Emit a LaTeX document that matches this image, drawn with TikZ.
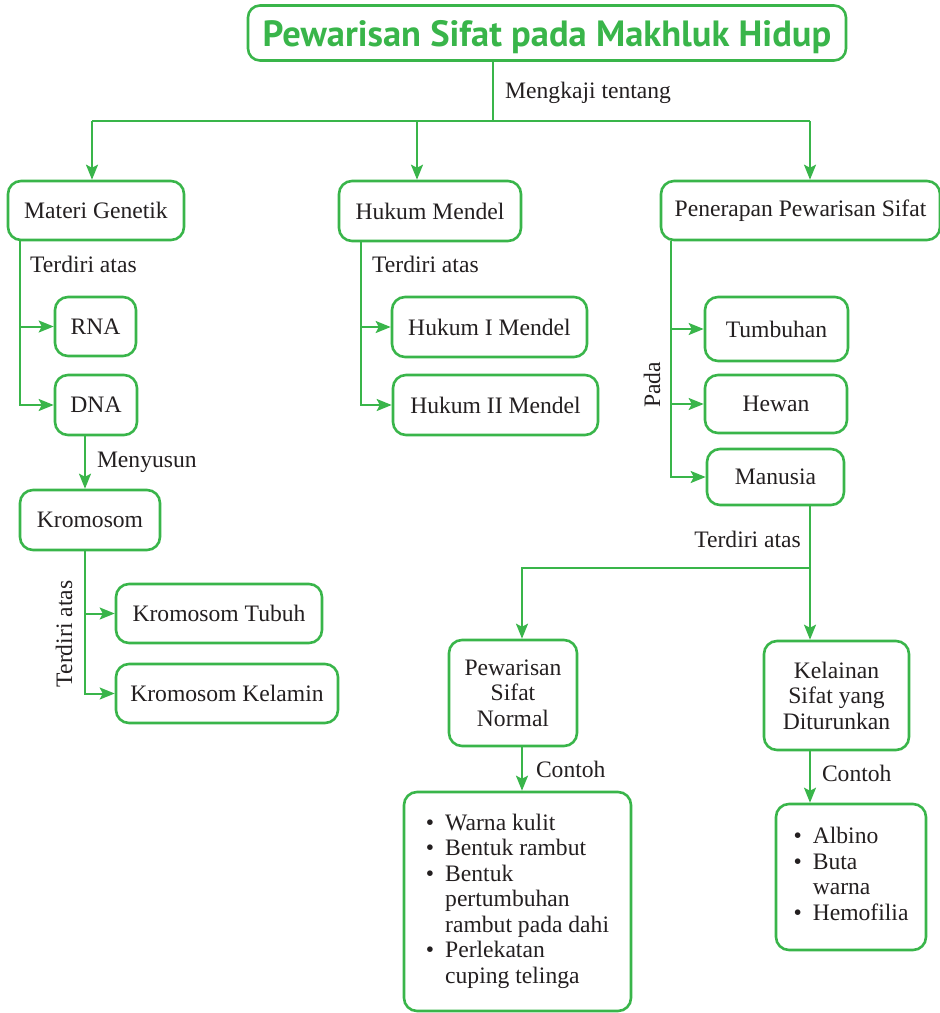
\documentclass[tikz,border=0pt]{standalone}
\usepackage{fontspec}
\setmainfont{Liberation Serif}
\newfontfamily\judulfont{PT Sans}
\usetikzlibrary{arrows.meta,calc}
\definecolor{hijau}{RGB}{57,181,74}
\definecolor{teks}{RGB}{35,31,32}
\tikzset{
  % kotak konsep
  kotak/.style   = {draw=hijau, line width=2.6pt, rounded corners=13pt,
                    inner sep=0pt, text=teks, align=center,
                    font=\fontsize{23.6}{25.5}\selectfont},
  ukuran/.style 2 args = {minimum width=#1pt, minimum height=#2pt},
  % garis penghubung
  garis/.style   = {draw=hijau, line width=2pt},
  panah/.style   = {garis, -{Stealth[length=15pt,width=12pt,inset=3pt]}},
  % keterangan
  ket/.style     = {text=teks, inner sep=0pt, font=\fontsize{23.6}{25.5}\selectfont},
}
\begin{document}
\begin{tikzpicture}[x=1pt,y=-1pt]
  \useasboundingbox (0,0) rectangle (940,1013);
  % judul
  \node[kotak, ukuran={598}{55}, rounded corners=12pt, text=hijau, text depth=0pt,
        font=\judulfont\bfseries\fontsize{36.5}{38}\selectfont] (judul) at (547,33)
        {Pewarisan Sifat pada Makhluk Hidup};
  % baris pertama
  \node[kotak, ukuran={176}{59}] (gen)    at (96,210.5)  {Materi Genetik};
  \node[kotak, ukuran={182}{60}] (mendel) at (430,211)   {Hukum Mendel};
  \node[kotak, ukuran={279}{59}] (terap)  at (800.5,210.5) {Penerapan Pewarisan Sifat};
  % materi genetik
  \node[kotak, ukuran={81}{59}]  (rna)     at (95.5,326.5) {RNA};
  \node[kotak, ukuran={82}{60}]  (dna)     at (96,405)     {DNA};
  \node[kotak, ukuran={140}{60}] (krom)    at (90,520)     {Kromosom};
  \node[kotak, ukuran={206}{59}] (tubuh)   at (219,613.5)  {Kromosom Tubuh};
  \node[kotak, ukuran={222}{59}] (kelamin) at (227,693.5)  {Kromosom Kelamin};
  % hukum mendel
  \node[kotak, ukuran={195}{60}] (hk1) at (489.5,327) {Hukum I Mendel};
  \node[kotak, ukuran={205}{60}] (hk2) at (495.5,405) {Hukum II Mendel};
  % penerapan
  \node[kotak, ukuran={143}{64}] (tumb)    at (776.5,329) {Tumbuhan};
  \node[kotak, ukuran={142}{58}] (hewan)   at (776,404)   {Hewan};
  \node[kotak, ukuran={137}{56}] (manusia) at (775.5,477) {Manusia};
  \node[kotak, ukuran={128}{106}] (normal)   at (513,693)   {Pewarisan\\Sifat\\Normal};
  \node[kotak, ukuran={145}{109}] (kelainan) at (836.5,695.5) {Kelainan\\Sifat yang\\Diturunkan};
  % contoh
  \node[kotak, ukuran={227}{219}, align=left] (cth1) at (517.5,901.5)
    {\begin{tabular}{@{}l@{\hspace{11pt}}l@{}}
      \textbullet & Warna kulit\\
      \textbullet & Bentuk rambut\\
      \textbullet & Bentuk\\
                  & pertumbuhan\\
                  & rambut pada dahi\\
      \textbullet & Perlekatan\\
                  & cuping telinga
     \end{tabular}};
  \node[kotak, ukuran={150}{146}, align=left] (cth2) at (851,877)
    {\begin{tabular}{@{}l@{\hspace{11pt}}l@{}}
      \textbullet & Albino\\
      \textbullet & Buta\\
                  & warna\\
      \textbullet & Hemofilia
     \end{tabular}};
  % titik bantu
  \coordinate (pusat) at (493,121);
  \coordinate (c1) at (92,121);
  \coordinate (c2) at (417,121);
  \coordinate (c3) at (810,121);
  \coordinate (t1) at (20,0);
  \coordinate (t2) at (85,0);
  \coordinate (t3) at (361,0);
  \coordinate (t4) at (671,0);
  \coordinate (t5) at (810,0);
  \coordinate (t6) at (522,0);
  \coordinate (cab) at (810,568);
  % penghubung atas
  \draw[garis] (judul.south -| pusat) -- (pusat);
  \draw[garis] (c1) -- (c3);
  \draw[panah] (c1) -- (c1 |- gen.north);
  \draw[panah] (c2) -- (c2 |- mendel.north);
  \draw[panah] (c3) -- (c3 |- terap.north);
  \node[ket, anchor=west] (kaji) at (505,93) {Mengkaji tentang};
  % materi genetik
  \draw[panah] (gen.south -| t1) |- (rna.west);
  \draw[panah] (gen.south -| t1) |- (dna.west);
  \node[ket, anchor=west] (atas1) at (30,264) {Terdiri atas};
  \draw[panah] (dna.south -| t2) -- (krom.north -| t2)
    node[ket, midway, right, xshift=11pt] (susun) {Menyusun};
  \draw[panah] (krom.south -| t2) |- (tubuh.west);
  \draw[panah] (krom.south -| t2) |- (kelamin.west);
  \node[ket, rotate=90] (atas2) at (64,634) {Terdiri atas};
  % hukum mendel
  \draw[panah] (mendel.south -| t3) |- (hk1.west);
  \draw[panah] (mendel.south -| t3) |- (hk2.west);
  \node[ket, anchor=west] (atas3) at (372,264) {Terdiri atas};
  % penerapan
  \draw[panah] (terap.south -| t4) |- (tumb.west);
  \draw[panah] (terap.south -| t4) |- (hewan.west);
  \draw[panah] (terap.south -| t4) |- (manusia.west);
  \node[ket, rotate=90] (pada) at (652,385) {Pada};
  \draw[panah] (manusia.south -| t5) -- (kelainan.north -| t5);
  \draw[panah] (cab) -| (normal.north -| t6);
  \node[ket, anchor=east] (atas4) at (801,539) {Terdiri atas};
  % contoh
  \draw[panah] (normal.south -| t6) -- (cth1.north -| t6)
    node[ket, midway, right, xshift=13pt] (cnt1) {Contoh};
  \draw[panah] (kelainan.south -| t5) -- (cth2.north -| t5)
    node[ket, midway, right, xshift=11pt, yshift=4pt] (cnt2) {Contoh};
\end{tikzpicture}
\end{document}
